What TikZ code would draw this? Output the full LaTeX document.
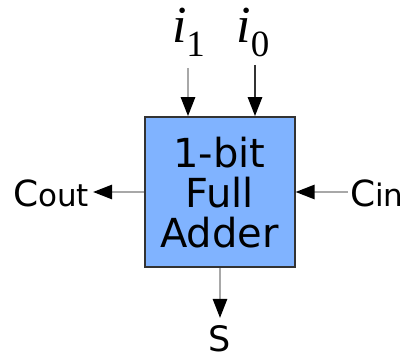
\documentclass[tikz,border=0pt]{standalone}
\usepackage{fontspec}
\setmainfont{DejaVu Sans}
\newfontfamily\ifont{Liberation Serif}
\usetikzlibrary{arrows.meta}
\definecolor{boxblue}{HTML}{80B3FF}
\definecolor{boxline}{HTML}{333333}
\definecolor{wire}{HTML}{A8A8A8}
\begin{document}
\begin{tikzpicture}[x=1pt,y=-1pt,
  adderbox/.style={draw=boxline,fill=boxblue,line width=2pt,minimum width=150pt,minimum height=150pt,inner sep=0pt,align=center,font=\fontsize{40}{40}\selectfont},
  wirearrow/.style={draw=wire,line width=2.6pt,-{Triangle[length=19pt,width=14pt,color=black]}},
  darkarrow/.style={draw=boxline,line width=2.6pt,-{Triangle[length=19pt,width=14pt,color=black]}},
  lbl/.style={inner sep=0pt,outer sep=0pt}]
\useasboundingbox (0,0) rectangle (400,358);
\node[adderbox] (fa) at (219.5,192.2) {1-bit\\Full\\Adder};
\node[lbl,anchor=base] (i1) at (188.5,43) {{\fontsize{52}{52}\selectfont\ifont\itshape i}\raisebox{-14pt}{\fontsize{37}{37}\selectfont\ifont 1}};
\node[lbl,anchor=base] (i0) at (253,43) {{\fontsize{52}{52}\selectfont\ifont\itshape i}\raisebox{-14pt}{\fontsize{37}{37}\selectfont\ifont 0}};
\node[lbl,anchor=base west] (cout) at (13,207) {{\fontsize{36}{36}\selectfont C}{\fontsize{31}{31}\selectfont out}};
\node[lbl,anchor=base west] (cin) at (350,207) {{\fontsize{36}{36}\selectfont C}{\fontsize{31}{31}\selectfont in}};
\node[lbl,anchor=base] (s) at (220,352) {\fontsize{35}{35}\selectfont S};
\coordinate (i1a) at (188,68);
\coordinate (i0a) at (255,65);
\coordinate (cina) at (348,192);
\coordinate (couta) at (93,192);
\coordinate (sa) at (220,318);
\draw[wirearrow] (i1a) -- (i1a |- fa.north);
\draw[darkarrow] (i0a) -- (i0a |- fa.north);
\draw[wirearrow] (cina) -- (cina -| fa.east);
\draw[wirearrow] (fa.west |- couta) -- (couta);
\draw[wirearrow] (fa.south -| sa) -- (sa);
\end{tikzpicture}
\end{document}
